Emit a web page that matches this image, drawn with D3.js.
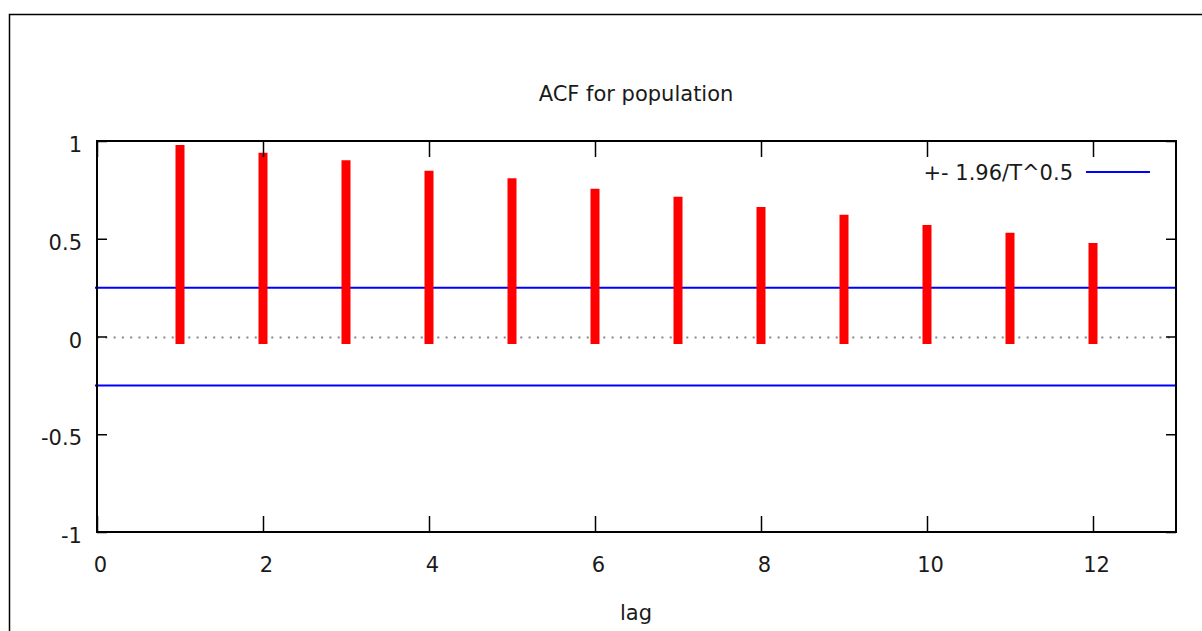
<!DOCTYPE html>
<html>
<head>
<meta charset="utf-8">
<script src="https://cdn.jsdelivr.net/npm/d3@7"></script>
<style>
  body { margin: 0; background: #fff; }
  svg { display: block; font-family: "DejaVu Sans", sans-serif; }
</style>
</head>
<body>
<svg id="chart" width="1202" height="631"></svg>
<script>
// ACF values per lag
const lags = [1, 2, 3, 4, 5, 6, 7, 8, 9, 10, 11, 12];
const acfValues = [0.957, 0.917, 0.878, 0.825, 0.786, 0.733, 0.692, 0.639, 0.600, 0.547, 0.508, 0.455];
const confBand = 0.25; // +- 1.96/T^0.5
const xTicks = [0, 2, 4, 6, 8, 10, 12];
const yTicks = [-1, -0.5, 0, 0.5, 1];
const title = "ACF for population";
const xLabel = "lag";
const legendLabel = "+- 1.96/T^0.5";

const svg = d3.select("#chart");

// outer frame (runs off the right and bottom edges)
svg.append("rect").attr("x", 9.5).attr("y", 14.5).attr("width", 1300).attr("height", 800)
  .attr("fill", "none").attr("stroke", "#000").attr("stroke-width", 1.5);

const plotLeft = 97, plotRight = 1176, plotTop = 141, plotBottom = 532;
const x = d3.scaleLinear().domain([0, 13]).range([plotLeft, plotRight]);
const y = d3.scaleLinear().domain([-1, 1]).range([plotBottom, plotTop]);

// zero line, dotted
svg.append("line")
  .attr("x1", x(0)).attr("x2", x(13)).attr("y1", y(0) + 1).attr("y2", y(0) + 1)
  .attr("stroke", "#888").attr("stroke-width", 2).attr("stroke-dasharray", "2,6.3");

// confidence band lines
svg.selectAll("line.conf").data([confBand, -confBand]).enter().append("line")
  .attr("class", "conf")
  .attr("x1", x(0) - 2).attr("x2", x(13))
  .attr("y1", d => y(d)).attr("y2", d => y(d))
  .attr("stroke", "#0000ff").attr("stroke-width", 2);

// impulses
svg.selectAll("line.acf").data(lags).enter().append("line")
  .attr("class", "acf")
  .attr("x1", d => x(d)).attr("x2", d => x(d))
  .attr("y1", y(0) + 3).attr("y2", (d, i) => y(acfValues[i]))
  .attr("stroke", "#ff0000").attr("stroke-width", 9).attr("stroke-linecap", "square");

// axes, gnuplot style: ticks point inward on all four sides
const gBottom = svg.append("g").attr("transform", `translate(0,${plotBottom})`)
  .call(d3.axisBottom(x).tickValues(xTicks).tickSizeInner(-16).tickSizeOuter(0).tickPadding(25).tickFormat(d => String(d)));
const gTop = svg.append("g").attr("transform", `translate(0,${plotTop})`)
  .call(d3.axisTop(x).tickValues(xTicks).tickSizeInner(-16).tickSizeOuter(0).tickFormat(""));
const gLeft = svg.append("g").attr("transform", `translate(${plotLeft},0)`)
  .call(d3.axisLeft(y).tickValues(yTicks).tickSizeInner(-10).tickSizeOuter(0).tickPadding(15).tickFormat(d => String(d)));
const gRight = svg.append("g").attr("transform", `translate(${plotRight},0)`)
  .call(d3.axisRight(y).tickValues(yTicks).tickSizeInner(-10).tickSizeOuter(0).tickFormat(""));

[gBottom, gTop, gLeft, gRight].forEach(g => {
  g.select(".domain").remove();
  g.selectAll(".tick line").attr("stroke", "#000").attr("stroke-width", 1.5);
  g.selectAll("text").attr("font-family", "DejaVu Sans").attr("font-size", 21).attr("fill", "#1a1a1a");
});
gBottom.selectAll("text").attr("dx", 3);
gLeft.selectAll("text").attr("y", 4);

// plot border
svg.append("rect").attr("x", plotLeft).attr("y", plotTop)
  .attr("width", plotRight - plotLeft).attr("height", plotBottom - plotTop)
  .attr("fill", "none").attr("stroke", "#000").attr("stroke-width", 2);

// title and axis label
svg.append("text").attr("x", 636).attr("y", 101).attr("text-anchor", "middle")
  .attr("font-size", 21).attr("fill", "#1a1a1a").text(title);
svg.append("text").attr("x", 636).attr("y", 620).attr("text-anchor", "middle")
  .attr("font-size", 21).attr("fill", "#1a1a1a").text(xLabel);

// legend
svg.append("text").attr("x", 1073).attr("y", 180).attr("text-anchor", "end")
  .attr("font-size", 21).attr("fill", "#1a1a1a").text(legendLabel);
svg.append("line").attr("x1", 1086).attr("x2", 1150).attr("y1", 172).attr("y2", 172)
  .attr("stroke", "#0000ff").attr("stroke-width", 2);
</script>
</body>
</html>
